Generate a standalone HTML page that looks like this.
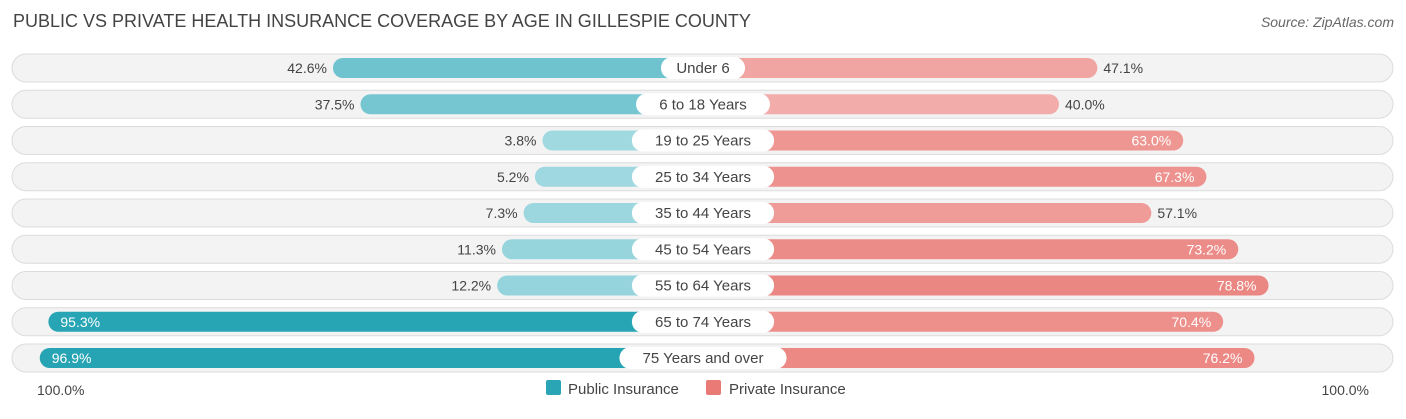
<!DOCTYPE html>
<html><head><meta charset="utf-8"><style>
body{margin:0;background:#fff;width:1406px;height:414px;overflow:hidden;font-family:"Liberation Sans",Arial,sans-serif}
</style></head><body>
<svg id="c" width="1406" height="414" xmlns="http://www.w3.org/2000/svg">
<text x="13" y="27" font-size="18" fill="#444">PUBLIC VS PRIVATE HEALTH INSURANCE COVERAGE BY AGE IN GILLESPIE COUNTY</text>
<text x="1394" y="27" font-size="14" fill="#666" font-style="italic" text-anchor="end">Source: ZipAtlas.com</text>
<text x="37" y="395" font-size="14" fill="#444">100.0%</text>
<text x="1369" y="395" font-size="14" fill="#444" text-anchor="end">100.0%</text>
<g>
<rect x="546" y="380" width="15" height="15" rx="2" fill="#2aa5b5"/>
<text x="568" y="394" font-size="15" fill="#444">Public Insurance</text>
<rect x="706" y="380" width="15" height="15" rx="2" fill="#e97a76"/>
<text x="729" y="394" font-size="15" fill="#444">Private Insurance</text>
</g>
<g id="rows"></g>
</svg>
<script>
const categories=["Under 6","6 to 18 Years","19 to 25 Years","25 to 34 Years","35 to 44 Years","45 to 54 Years","55 to 64 Years","65 to 74 Years","75 Years and over"];
const publicVals=[42.6,37.5,3.8,5.2,7.3,11.3,12.2,95.3,96.9];
const privateVals=[47.1,40.0,63.0,67.3,57.1,73.2,78.8,70.4,76.2];
const NS="http://www.w3.org/2000/svg";
const cx=703,base=140,k=5.4,top0=68,step=36.25,bh=20;
function w(v){return base+k*v;}
function mix(a,b,t){const p=s=>[1,3,5].map(i=>parseInt(s.substr(i,2),16));const A=p(a),B=p(b);return "rgb("+A.map((x,i)=>Math.round(x+(B[i]-x)*t)).join(",")+")";}
const g=document.getElementById("rows");
function el(tag,attrs,parent){const e=document.createElementNS(NS,tag);for(const a in attrs)e.setAttribute(a,attrs[a]);(parent||g).appendChild(e);return e;}
categories.forEach((cat,i)=>{
  const y=top0+i*step;
  const row=el("g",{});
  
  
  const bg=el("rect",{x:12,y:y-14,width:1381,height:28,rx:14,fill:"#f3f3f3",stroke:"#dcdcdc","stroke-width":1},row);
  
  
  const pv=publicVals[i],qv=privateVals[i];
  const pw=w(pv),qw=w(qv);
  const pb=el("rect",{x:cx-pw,y:y-bh/2,width:pw,height:bh,rx:10,fill:mix("#a6dbe3","#22a2b2",pv/100)},row);
  
  
  const qb=el("rect",{x:cx,y:y-bh/2,width:qw,height:bh,rx:10,fill:mix("#f8d3d2","#e8726d",qv/100)},row);
  
  
  const pin=pw>460,qin=qw>460;
  const pt=el("text",{x:pin?cx-pw+12:cx-pw-6,y:y+5,"font-size":14,fill:pin?"#fff":"#444","text-anchor":pin?"start":"end"},row);
  pt.textContent=pv.toFixed(1)+"%";
  
  
  const qt=el("text",{x:qin?cx+qw-12:cx+qw+6,y:y+5,"font-size":14,fill:qin?"#fff":"#444","text-anchor":qin?"end":"start"},row);
  qt.textContent=qv.toFixed(1)+"%";
  
  
  const lw=cat.length*8.3+26;
  const lb=el("rect",{x:cx-lw/2,y:y-11,width:lw,height:22,rx:11,fill:"#fff"},row);
  
  
  const lt=el("text",{x:cx,y:y+5,"font-size":15,fill:"#444","text-anchor":"middle"},row);
  lt.textContent=cat;
  
  
});
</script>
</body></html>
